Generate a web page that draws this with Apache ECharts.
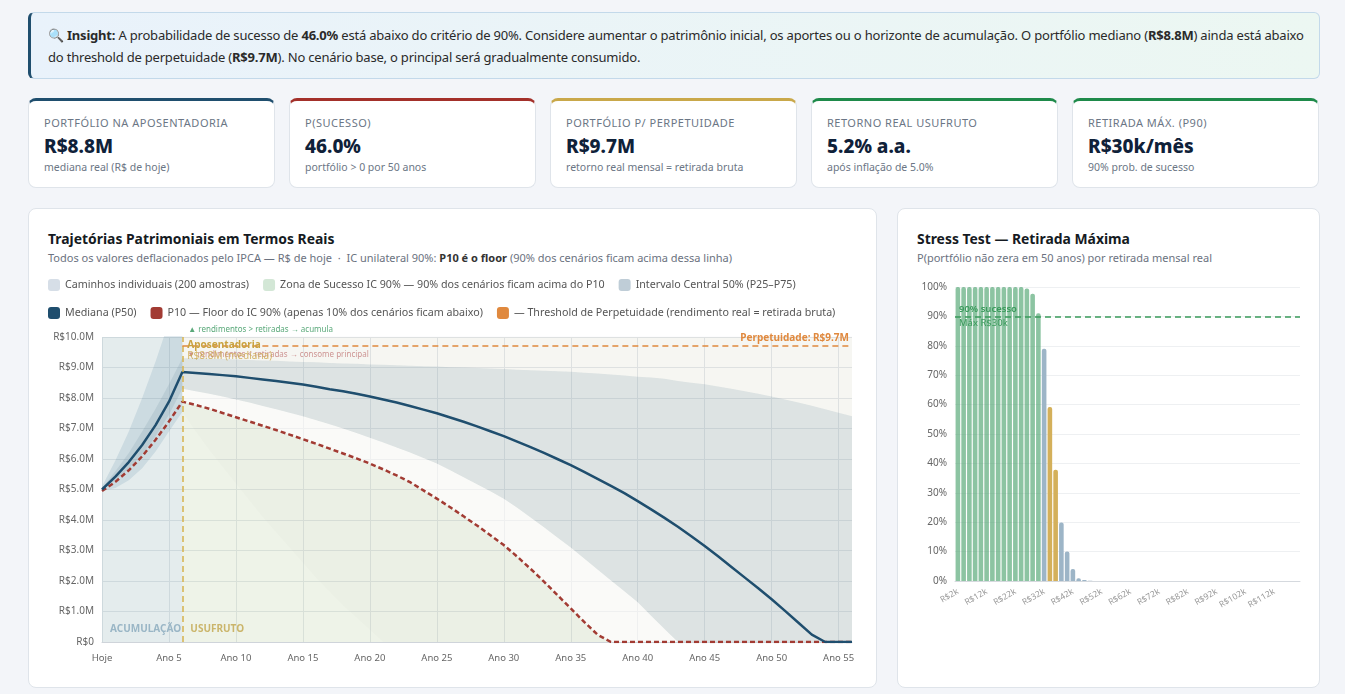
<!DOCTYPE html>
<html>
<head>
<meta charset="utf-8">
<script src="https://cdn.jsdelivr.net/npm/echarts@6/dist/echarts.min.js"></script>
<style>
  body { margin:0; width:1345px; height:694px; overflow:hidden; position:relative; background:#f3f5f9; font-family:'Noto Sans', sans-serif; color:#2a2a2a; }
  .insight { position:absolute; left:28px; top:12px; width:1292px; height:67px; box-sizing:border-box; border:1px solid #c3d9ea; border-left:3px solid #1f4e6e; border-radius:6px; background:linear-gradient(90deg,#e9f2fb,#ecf7f2); padding:11px 17px 0 17px; font-size:13px; letter-spacing:-0.2px; line-height:22px; white-space:nowrap; }
  .kpi { position:absolute; top:98px; width:247px; height:90px; box-sizing:border-box; background:#fff; border:1px solid #dfe4ea; border-top:3px solid #1f4e6e; border-radius:8px; padding:14px 15px 0 15px; }
  .kpi .l { font-size:11px; line-height:16px; letter-spacing:0.5px; color:#6b7685; text-transform:uppercase; }
  .kpi .v { font-size:19px; line-height:24px; font-weight:800; color:#0f2139; margin-top:3px; }
  .kpi .s { font-size:10.5px; line-height:16px; color:#6b7685; margin-top:1px; }
  .card { position:absolute; top:208px; height:480px; box-sizing:border-box; background:#fff; border:1px solid #dfe4ea; border-radius:8px; }
  .card h3 { position:absolute; left:19px; top:21px; margin:0; font-size:13.9px; line-height:18px; font-weight:700; color:#151a22; white-space:nowrap; }
  .card .sub { position:absolute; left:19px; top:42px; font-size:11px; line-height:14px; color:#6b7280; white-space:nowrap; }
  .card .sub b { color:#333; }
  .chart { position:absolute; left:0; top:61px; }
</style>
</head>
<body>
<div class="insight">🔍 <b>Insight:</b> A probabilidade de sucesso de <b>46.0%</b> está abaixo do critério de 90%. Considere aumentar o patrimônio inicial, os aportes ou o horizonte de acumulação. O portfólio mediano (<b>R$8.8M</b>) ainda está abaixo<br>do threshold de perpetuidade (<b>R$9.7M</b>). No cenário base, o principal será gradualmente consumido.</div>

<div class="kpi" style="left:28px;border-top-color:#1f4e6e"><div class="l">Portfólio na Aposentadoria</div><div class="v">R$8.8M</div><div class="s">mediana real (R$ de hoje)</div></div>
<div class="kpi" style="left:289px;border-top-color:#a3302a"><div class="l">P(Sucesso)</div><div class="v">46.0%</div><div class="s">portfólio &gt; 0 por 50 anos</div></div>
<div class="kpi" style="left:550px;border-top-color:#c9a84a"><div class="l">Portfólio p/ Perpetuidade</div><div class="v">R$9.7M</div><div class="s">retorno real mensal = retirada bruta</div></div>
<div class="kpi" style="left:811px;border-top-color:#1e8a4a"><div class="l">Retorno Real Usufruto</div><div class="v">5.2% a.a.</div><div class="s">após inflação de 5.0%</div></div>
<div class="kpi" style="left:1072px;border-top-color:#1e8a4a"><div class="l">Retirada Máx. (P90)</div><div class="v">R$30k/mês</div><div class="s">90% prob. de sucesso</div></div>

<div class="card" style="left:28px;width:849px">
  <h3>Trajetórias Patrimoniais em Termos Reais</h3>
  <div class="sub">Todos os valores deflacionados pelo IPCA — R$ de hoje &nbsp;·&nbsp; IC unilateral 90%: <b>P10 é o floor</b> (90% dos cenários ficam acima dessa linha)</div>
  <div id="traj" class="chart" style="width:847px;height:417px"></div>
</div>
<div class="card" style="left:897px;width:423px">
  <h3>Stress Test — Retirada Máxima</h3>
  <div class="sub">P(portfólio não zera em 50 anos) por retirada mensal real</div>
  <div id="stress" class="chart" style="width:421px;height:417px"></div>
</div>

<script>
// anos desde hoje (aposentadoria no ano 6)
const YEARS = [0,1,2,3,4,5,6,7,8,9,10,11,12,13,14,15,16,17,18,19,20,21,22,23,24,25,26,27,28,29,30,31,32,33,34,35,36,37,38,39,40,41,42,43,44,45,46,47,48,49,50,51,52,53,54,55,56];
const RET_YEAR = 6;
const PERP = 9.7;       // R$ milhões
const RET_MEDIAN = 8.8;

// percentis em R$ milhões (reais)
const P50 = [5.0,5.42,5.9,6.46,7.11,7.88,8.85,
  8.82,8.79,8.75,8.71,8.66,8.61,8.56,8.5,8.44,8.37,
  8.29,8.22,8.14,8.05,7.95,7.85,7.74,7.62,7.5,7.36,
  7.22,7.07,6.91,6.75,6.57,6.39,6.2,6.0,5.8,5.58,
  5.35,5.12,4.88,4.62,4.35,4.07,3.78,3.47,3.15,2.81,
  2.46,2.11,1.76,1.4,1.02,0.63,0.24,0,0,0];
const P10 = [4.95,5.25,5.63,6.09,6.63,7.23,7.88,
  7.77,7.65,7.51,7.37,7.23,7.09,6.95,6.8,6.65,6.5,
  6.34,6.18,6.02,5.85,5.66,5.46,5.24,4.97,4.7,4.42,
  4.12,3.82,3.5,3.18,2.8,2.4,1.98,1.54,1.1,0.66,
  0.24,0,0,0,0,0,0,0,0,0,
  0,0,0,0,0,0,0,0,0,0];
const P25 = [4.98,5.3,5.7,6.15,6.75,7.45,8.3,
  8.22,8.14,8.05,7.95,7.85,7.74,7.63,7.52,7.4,7.27,
  7.14,7.0,6.85,6.7,6.54,6.38,6.21,6.03,5.85,5.63,
  5.4,5.17,4.94,4.7,4.4,4.08,3.76,3.43,3.1,2.74,
  2.38,2.02,1.66,1.3,0.86,0.43,0,0,0,0,
  0,0,0,0,0,0,0,0,0,0];
const P75 = [5.05,5.6,6.2,6.9,7.65,8.45,9.3,
  9.3,9.29,9.28,9.26,9.25,9.23,9.22,9.2,9.18,9.17,
  9.15,9.13,9.12,9.1,9.09,9.07,9.06,9.04,9.03,9.01,
  9.0,8.98,8.97,8.95,8.93,8.91,8.89,8.88,8.86,8.83,
  8.8,8.77,8.74,8.7,8.67,8.63,8.56,8.5,8.45,8.38,
  8.3,8.22,8.14,8.05,7.95,7.85,7.75,7.63,7.52,7.4];
// envelope dos caminhos individuais
const PATH_LO = [4.95,5.05,5.3,5.7,6.25,6.9,7.55,
  6.9,6.3,5.75,5.2,4.65,4.1,3.6,3.1,2.6,2.1,
  1.65,1.2,0.8,0.4,0,0,0,0,0,0,
  0,0,0,0,0,0,0,0,0,0,
  0,0,0,0,0,0,0,0,0,0,
  0,0,0,0,0,0,0,0,0,0];
const PATH_HI = [5.1,5.95,6.9,8.0,9.2,10.5,11.8,
  12,12,12,12,12,12,12,12,12,12,
  12,12,12,12,12,12,12,12,12,12,
  12,12,12,12,12,12,12,12,12,12,
  12,12,12,12,12,12,12,12,12,12,
  12,12,12,12,12,12,12,12,12,12];

// stress test
const WITHDRAW_K = [2,4,6,8,10,12,14,16,18,20,22,24,26,28,30,32,34,36,38,40,42,44,46,48,50,52,54,56,58,60,
  62,64,66,68,70,72,74,76,78,80,82,84,86,88,90,92,94,96,98,100,102,104,106,108,110,112,114,116,118,120];
const P_SUCCESS = [100,100,100,100,100,100,100,100,100,100,100,100,99.5,97.7,91.1,79.0,59.2,37.8,19.9,10.0,
  4.1,0.9,0.3,0.1,0,0,0,0,0,0,0,0,0,0,0,0,0,0,0,0,
  0,0,0,0,0,0,0,0,0,0,0,0,0,0,0,0,0,0,0,0];
const TARGET = 90;
const MAX_OK_K = 30;

const FONT = 'Noto Sans';
const NAMES = {
  paths: 'Caminhos individuais (200 amostras)',
  zone: 'Zona de Sucesso IC 90% — 90% dos cenários ficam acima do P10',
  iqr: 'Intervalo Central 50% (P25–P75)',
  p50: 'Mediana (P50)',
  p10: 'P10 — Floor do IC 90% (apenas 10% dos cenários ficam abaixo)',
  perp: '— Threshold de Perpetuidade (rendimento real = retirada bruta)'
};

function mask(arr, keep) { return arr.map((v, i) => keep(YEARS[i]) ? v : null); }
function diff(hi, lo) { return hi.map((v, i) => (v == null || lo[i] == null) ? null : +(v - lo[i]).toFixed(4)); }
const isAcc = y => y <= RET_YEAR;
const isUsu = y => y >= RET_YEAR;

function bandSeries(stack, lo, hi, color, name) {
  const hidden = { lineStyle: { opacity: 0 }, symbol: 'none', silent: true };
  return [
    Object.assign({ type: 'line', stack: stack, data: lo, name: stack + '_base' }, hidden),
    Object.assign({ type: 'line', stack: stack, data: diff(hi, lo), name: name || stack, areaStyle: { color: color, opacity: 1 }, itemStyle: { color: color } }, hidden)
  ];
}

const traj = echarts.init(document.getElementById('traj'));
const legendBase = {
  left: 19, width: 820, padding: 0, icon: 'roundRect', itemWidth: 12, itemHeight: 12, itemGap: 14, selectedMode: false,
  textStyle: { fontSize: 10.7, color: '#555', fontFamily: FONT }
};
const yearLabel = v => v === '0' ? 'Hoje' : 'Ano ' + v;
const mFmt = v => v === 0 ? 'R$0' : 'R$' + v.toFixed(1) + 'M';

traj.setOption({
  animation: false,
  textStyle: { fontFamily: FONT },
  legend: [
    Object.assign({ top: 9, data: [
      { name: NAMES.paths, itemStyle: { color: '#d6dee7', borderWidth: 0 } },
      { name: NAMES.zone, itemStyle: { color: '#d3e7d6', borderWidth: 0 } },
      { name: NAMES.iqr, itemStyle: { color: '#bfcdd7', borderWidth: 0 } }
    ] }, legendBase),
    Object.assign({ top: 37, data: [
      { name: NAMES.p50, itemStyle: { color: '#1f4e6e', borderWidth: 0 } },
      { name: NAMES.p10, itemStyle: { color: '#a23b33', borderWidth: 0 } },
      { name: NAMES.perp, itemStyle: { color: '#e0893e', borderWidth: 0 } }
    ] }, legendBase)
  ],
  grid: { left: 73, right: 24, top: 67, bottom: 45 },
  xAxis: {
    type: 'category', boundaryGap: false, data: YEARS.map(String),
    axisLine: { lineStyle: { color: '#cfd4da' } },
    axisTick: { show: false },
    axisLabel: { interval: 4, formatter: yearLabel, fontSize: 9.5, color: '#666', margin: 11 },
    splitLine: { show: true, interval: 4, lineStyle: { color: '#e6e9ed' } }
  },
  yAxis: {
    type: 'value', min: 0, max: 10, interval: 1,
    axisLine: { show: false }, axisTick: { show: false },
    axisLabel: { formatter: mFmt, fontSize: 10, color: '#666', margin: 8 },
    splitLine: { lineStyle: { color: '#e6e9ed' } }
  },
  series: [
    {
      type: 'line', name: 'bg', data: [], silent: true,
      markArea: {
        silent: true,
        data: [
          [{ name: 'ACUMULAÇÃO', xAxis: '0', itemStyle: { color: 'rgba(75,128,135,0.15)' },
             label: { color: '#9ab6c6' } }, { xAxis: String(RET_YEAR) }],
          [{ name: 'USUFRUTO', xAxis: String(RET_YEAR), itemStyle: { color: 'rgba(175,165,105,0.07)' },
             label: { color: '#d1b366' } }, { xAxis: String(YEARS[YEARS.length - 1]) }]
        ],
        label: { show: true, position: 'insideBottomLeft', distance: 8, fontWeight: 'bold', fontSize: 10 }
      },
      markLine: {
        silent: true, symbol: 'none',
        lineStyle: { color: '#d6b24e', type: [6, 4], width: 1.5 },
        label: { show: false },
        data: [{ xAxis: String(RET_YEAR) }]
      },
      markPoint: {
        silent: true, symbol: 'circle', symbolSize: 0,
        data: [
          { coord: [String(RET_YEAR), 10], label: { show: true, position: [6, -11], align: 'left', fontSize: 8, color: '#5aa97a',
              formatter: '▲ rendimentos > retiradas → acumula' } },
          { coord: [String(RET_YEAR), 10], label: { show: true, position: [5, 14], align: 'left', fontSize: 8, color: 'rgba(176,80,80,0.6)',
              formatter: '▼ rendimentos < retiradas → consome principal' } },
          { coord: [String(RET_YEAR), 10], label: { show: true, position: [5, 3], align: 'left', lineHeight: 11,
              formatter: '{a|Aposentadoria}\n{b|R$' + RET_MEDIAN.toFixed(1) + 'M (mediana)}',
              rich: { a: { fontSize: 10, fontWeight: 'bold', color: '#c9a23f', lineHeight: 11 },
                      b: { fontSize: 10, color: 'rgba(201,162,63,0.75)', lineHeight: 11 } } } }
        ]
      }
    },
    ...bandSeries('pa', mask(PATH_LO, isAcc), mask(PATH_HI, isAcc), 'rgba(60,110,150,0.14)', NAMES.paths),
    ...bandSeries('pu', mask(PATH_LO, isUsu), mask(PATH_HI, isUsu), 'rgba(80,120,150,0.02)', NAMES.paths),
    {
      type: 'line', name: NAMES.zone, data: mask(P10, isUsu), symbol: 'none', silent: true,
      lineStyle: { opacity: 0 }, itemStyle: { color: '#d3e7d6' },
      areaStyle: { color: 'rgba(160,200,150,0.13)', opacity: 1 }
    },
    ...bandSeries('w', mask(P10, isUsu), mask(P25, isUsu), 'rgba(255,255,255,0.5)', 'white_band'),
    ...bandSeries('g', P25, P75, 'rgba(120,150,165,0.2)', NAMES.iqr),
    {
      type: 'line', name: NAMES.p10, data: P10, symbol: 'none', silent: true,
      itemStyle: { color: '#a23b33' },
      lineStyle: { color: '#a23b33', width: 2.5, type: [5, 3] }
    },
    {
      type: 'line', name: NAMES.p50, data: P50, symbol: 'none', silent: true,
      itemStyle: { color: '#1f4e6e' },
      lineStyle: { color: '#1f4e6e', width: 2.5 }
    },
    {
      type: 'line', name: NAMES.perp, data: [], silent: true, itemStyle: { color: '#e0893e' },
      markLine: {
        silent: true, symbol: 'none',
        lineStyle: { color: '#e0893e', type: [6, 4], width: 1.5 },
        label: { show: true, position: 'insideEndTop', distance: 3, formatter: 'Perpetuidade: R$' + PERP.toFixed(1) + 'M',
          color: '#e0893e', fontWeight: 'bold', fontSize: 10 },
        data: [[{ coord: [String(RET_YEAR), PERP] }, { coord: [String(YEARS[YEARS.length - 1]), PERP] }]]
      }
    }
  ]
});

const stress = echarts.init(document.getElementById('stress'));
const GREEN = 'rgba(70,160,105,0.62)', GOLD = '#d4b05a', SLATE = '#9db5c7';
stress.setOption({
  animation: false,
  textStyle: { fontFamily: FONT },
  grid: { left: 57, right: 19, top: 17, bottom: 106 },
  xAxis: {
    type: 'category', data: WITHDRAW_K,
    axisLine: { lineStyle: { color: '#d5d9de' } },
    axisTick: { show: false },
    axisLabel: { interval: 4, rotate: 30, fontSize: 8.5, color: '#999', formatter: v => 'R$' + v + 'k', margin: 10 }
  },
  yAxis: {
    type: 'value', min: 0, max: 100, interval: 10,
    axisLine: { show: false }, axisTick: { show: false },
    axisLabel: { formatter: '{value}%', fontSize: 10, color: '#666', margin: 8 },
    splitLine: { lineStyle: { color: '#eef0f2' } }
  },
  series: [{
    type: 'bar', data: P_SUCCESS, barCategoryGap: '20%', silent: true,
    itemStyle: {
      borderRadius: [2, 2, 0, 0],
      color: p => p.value >= TARGET ? GREEN : (p.value >= 30 && p.value < 70 ? GOLD : SLATE)
    },
    markLine: {
      silent: true, symbol: 'none',
      lineStyle: { color: '#3a9a5b', type: [6, 4], width: 1.5 },
      data: [
        { yAxis: TARGET, label: { show: true, position: 'insideStartTop', distance: [4, 2], formatter: TARGET + '% sucesso',
          color: '#3a9a5b', fontSize: 9.5, fontWeight: 600 } },
        { yAxis: TARGET, lineStyle: { color: 'rgba(0,0,0,0)' }, label: { show: true, position: 'insideStartBottom', distance: [4, 2],
          formatter: 'Máx R$' + MAX_OK_K + 'k', color: '#3a9a5b', fontSize: 9.5 } }
      ]
    }
  }]
});
</script>
</body>
</html>
